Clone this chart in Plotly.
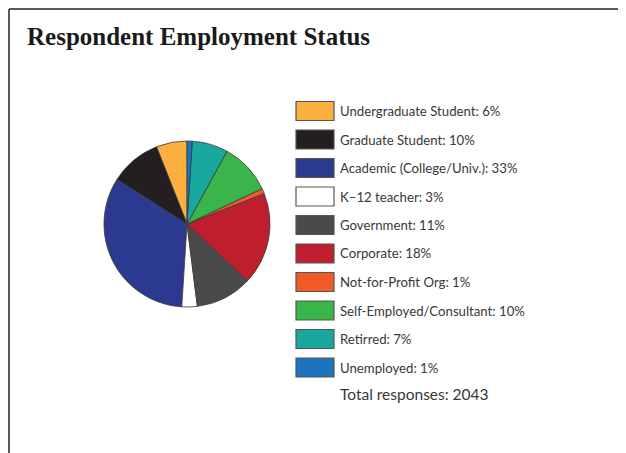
import plotly.graph_objects as go

# page body has an 8px margin, so the figure is offset by 8px
OFF = 8
W, H = 626 - OFF, 453 - OFF

categories = [
    "Undergraduate Student", "Graduate Student", "Academic (College/Univ.)",
    "K\u201312 teacher", "Government", "Corporate", "Not-for-Profit Org",
    "Self-Employed/Consultant", "Retirred", "Unemployed",
]
percent = [6, 10, 33, 3, 11, 18, 1, 10, 7, 1]
colors = ["#FBB040", "#231F20", "#2B3990", "#FFFFFF", "#4A4A4A",
          "#BE1E2D", "#F15A29", "#39B54A", "#17A79D", "#1C75BC"]
total_responses = 2043
title = "Respondent Employment Status"


def px(x):
    return (x - OFF) / W


def py(y):
    return 1 - (y - OFF) / H


fig = go.Figure()

cx, cy, r = 187, 224, 83
# plotly places the first counterclockwise slice to the right of the start angle;
# rotate back so the first slice ends at 12 o'clock as in the reference
first_angle = 360 * percent[0] / sum(percent)
fig.add_trace(go.Pie(
    labels=categories,
    values=percent,
    sort=False,
    direction="counterclockwise",
    rotation=-first_angle,
    marker=dict(colors=colors, line=dict(color="#3a3a3a", width=0.8)),
    textinfo="none",
    hoverinfo="label+percent",
    showlegend=False,
    domain=dict(x=[px(cx - r), px(cx + r)], y=[py(cy + r), py(cy - r)]),
))

shapes = []
annotations = []

# frame lines
shapes.append(dict(type="line", xref="paper", yref="paper",
                   x0=px(9), x1=1, y0=py(9), y1=py(9),
                   line=dict(color="#5a5a5a", width=2)))
shapes.append(dict(type="line", xref="paper", yref="paper",
                   x0=px(9), x1=px(9), y0=py(9), y1=0,
                   line=dict(color="#5a5a5a", width=2)))

# legend
y0, step, bh = 111, 28.5, 19
for i, (lab, pct, col) in enumerate(zip(categories, percent, colors)):
    yc = y0 + i * step
    shapes.append(dict(type="rect", xref="paper", yref="paper",
                       x0=px(296), x1=px(334), y0=py(yc + bh / 2), y1=py(yc - bh / 2),
                       fillcolor=col, line=dict(color="#555555", width=1.2)))
    annotations.append(dict(xref="paper", yref="paper", x=px(338), y=py(yc),
                            xanchor="left", yanchor="middle", showarrow=False,
                            text=f"{lab}: {pct}%",
                            font=dict(family="Lato", size=13.2, color="#383838")))

annotations.append(dict(xref="paper", yref="paper", x=px(338), y=py(394),
                        xanchor="left", yanchor="middle", showarrow=False,
                        text=f"Total responses: {total_responses}",
                        font=dict(family="Lato", size=15.5, color="#383838")))

annotations.append(dict(xref="paper", yref="paper", x=px(25), y=py(37),
                        xanchor="left", yanchor="middle", showarrow=False,
                        text=f"<b>{title}</b>",
                        font=dict(family="Liberation Serif", size=25, color="#1a1a1a")))

fig.update_layout(
    width=W, height=H,
    margin=dict(l=0, r=0, t=0, b=0),
    paper_bgcolor="white", plot_bgcolor="white",
    shapes=shapes, annotations=annotations,
)

fig.write_html("out.html")
